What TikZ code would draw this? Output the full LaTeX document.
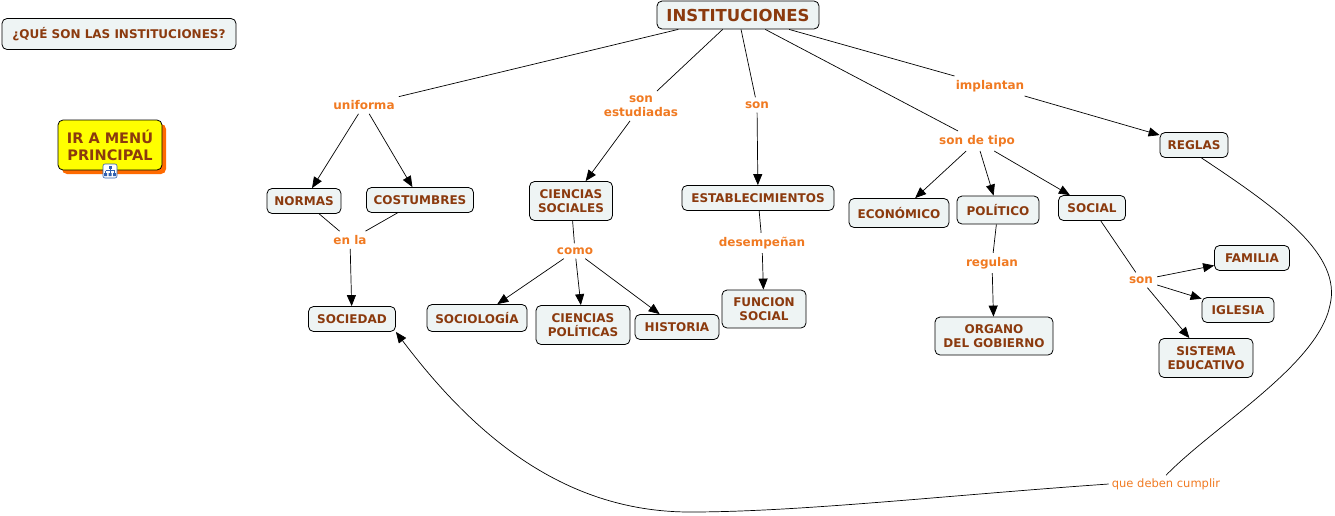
\documentclass[tikz,border=0pt]{standalone}
\usepackage{fontspec}
\setmainfont{DejaVu Sans}
\usetikzlibrary{arrows.meta}
\definecolor{cbrown}{HTML}{8B3A0E}
\definecolor{corange}{HTML}{F07A22}
\definecolor{cfill}{HTML}{EEF4F4}
\definecolor{cyellow}{HTML}{FFFF00}
\definecolor{cshadow}{HTML}{FF6A00}
\definecolor{cblue}{HTML}{3060B0}
\tikzset{
  concept/.style={draw=black, line width=0.8pt, rounded corners=5pt, fill=cfill,
    text=cbrown, font=\bfseries\fontsize{12}{14.5}\selectfont, align=center,
    inner xsep=7pt, inner ysep=5pt, minimum height=25pt},
  lbl/.style={text=corange, font=\bfseries\fontsize{12}{14.5}\selectfont, align=center, inner sep=4pt},
  link/.style={draw=black, line width=0.7pt},
  arr/.style={link, -{Triangle[length=11pt,width=9pt]}},
}
\begin{document}
\begin{tikzpicture}[x=1pt,y=-1pt]
\useasboundingbox (0,0) rectangle (1335,515);

% top-left nodes
\node[concept, minimum width=234pt, minimum height=31pt] (que) at (119,34) {¿QUÉ SON LAS INSTITUCIONES?};
\fill[cshadow, rounded corners=5pt] (62,124) rectangle (166,174);
\node[draw=black, line width=0.8pt, rounded corners=5pt, fill=cyellow, text=cbrown,
  font=\bfseries\fontsize{14.5}{17}\selectfont, align=center, inner sep=2pt, minimum width=104pt, minimum height=50pt] (menu) at (110,145) {IR A MENÚ\\PRINCIPAL};
\node[draw=cblue, line width=0.6pt, fill=white, rounded corners=2pt, minimum width=14pt, minimum height=14pt, inner sep=0pt] (icon) at (110,171) {};
\fill[cblue] (108.5,165.5) rectangle (111.5,168.5);
\draw[cblue, line width=0.6pt] (110,168.5) -- (110,170.5) (105.5,170.5) -- (114.5,170.5) (105.5,170.5) -- (105.5,173) (110,170.5) -- (110,173) (114.5,170.5) -- (114.5,173);
\fill[cblue] (104,173) rectangle (107,176) (108.5,173) rectangle (111.5,176) (113,173) rectangle (116,176);

% main nodes
\node[concept, font=\bfseries\fontsize{16.5}{19}\selectfont, minimum width=162pt, minimum height=28pt, inner ysep=3pt] (inst) at (738,15) {INSTITUCIONES};
\node[lbl] (uniforma) at (364,105) {uniforma};
\node[lbl] (estud) at (641,106) {son\\estudiadas};
\node[lbl] (son1) at (757,105) {son};
\node[lbl] (tipo) at (977,141) {son de tipo};
\node[lbl] (impl) at (990,86) {implantan};
\node[concept, minimum width=68pt] (reglas) at (1194,145) {REGLAS};

\node[concept, minimum width=74pt] (normas) at (304,201) {NORMAS};
\node[concept, minimum width=107pt] (cost) at (420,200) {COSTUMBRES};
\node[lbl] (enla) at (350,240) {en la};
\node[concept, minimum width=87pt] (soc) at (352,319) {SOCIEDAD};

\node[concept, minimum width=83pt, minimum height=39pt] (csoc) at (571,201) {CIENCIAS\\SOCIALES};
\node[lbl] (como) at (575,251) {como};
\node[concept, minimum width=100pt, minimum height=27pt] (sociol) at (477,318) {SOCIOLOGÍA};
\node[concept, minimum width=94pt, minimum height=39pt] (cpol) at (583,325) {CIENCIAS\\POLÍTICAS};
\node[concept, minimum width=84pt] (hist) at (677,327) {HISTORIA};

\node[concept, minimum width=152pt] (estab) at (758,198) {ESTABLECIMIENTOS};
\node[lbl] (desemp) at (762,243) {desempeñan};
\node[concept, minimum width=84pt, minimum height=38pt] (func) at (764,309) {FUNCION\\SOCIAL};

\node[concept, minimum width=100pt, minimum height=29pt] (econ) at (899,213) {ECONÓMICO};
\node[concept, minimum width=82pt, minimum height=28pt] (polit) at (998,210) {POLÍTICO};
\node[concept, minimum width=67pt] (social) at (1092,208) {SOCIAL};
\node[lbl] (regulan) at (992,263) {regulan};
\node[concept, minimum width=118pt, minimum height=38pt] (organo) at (994,336) {ORGANO\\DEL GOBIERNO};

\node[lbl] (son2) at (1141,280) {son};
\node[concept, minimum width=75pt] (familia) at (1252,258) {FAMILIA};
\node[concept, minimum width=72pt] (iglesia) at (1238,310) {IGLESIA};
\node[concept, minimum width=94pt, minimum height=39pt] (sist) at (1206,358) {SISTEMA\\EDUCATIVO};

\node[text=corange, font=\fontsize{11.5}{13}\selectfont, inner sep=3pt] (qdc) at (1166,484) {que deben cumplir};

% connectors from INSTITUCIONES
\draw[link] (inst) -- (uniforma);
\draw[link] (inst) -- (estud);
\draw[link] (inst) -- (son1);
\draw[link] (inst) -- (tipo);
\draw[link] (inst) -- (impl);
\draw[arr] (impl) -- (reglas);

\draw[arr] (uniforma) -- (normas);
\draw[arr] (uniforma) -- (cost);
\draw[link] (normas) -- (enla);
\draw[link] (cost) -- (enla);
\draw[arr] (enla) -- (soc);

\draw[arr] (estud) -- (csoc);
\draw[link] (csoc) -- (como);
\draw[arr] (como) -- (sociol);
\draw[arr] (como) -- (cpol);
\draw[arr] (como) -- (hist);

\draw[arr] (son1) -- (estab);
\draw[link] (estab) -- (desemp);
\draw[arr] (desemp) -- (func);

\draw[arr] (tipo) -- (econ);
\draw[arr] (tipo) -- (polit);
\draw[arr] (tipo) -- (social);
\draw[link] (polit) -- (regulan);
\draw[arr] (regulan) -- (organo);

\draw[link] (social) -- (son2);
\draw[arr] (son2) -- (familia);
\draw[arr] (son2) -- (iglesia);
\draw[arr] (son2) -- (sist);

% long curve
\draw[link] (reglas.300) .. controls (1280,210) and (1342,255) .. (1330,305)
  .. controls (1318,365) and (1215,425) .. (qdc.north);
\draw[arr] (qdc.west) .. controls (950,495) and (800,512) .. (690,512)
  .. controls (560,512) and (470,430) .. (soc.south east);
\end{tikzpicture}
\end{document}
